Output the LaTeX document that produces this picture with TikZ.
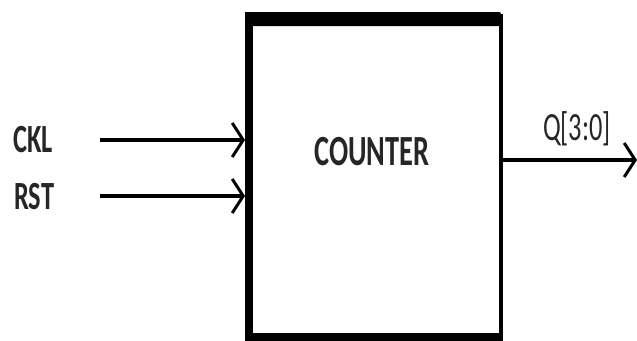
\documentclass[tikz,border=0pt]{standalone}
\usepackage{fontspec}
\setmainfont{Carlito}
\usetikzlibrary{arrows.meta}
\newcommand{\narrow}[1]{\scalebox{0.66}[1]{#1}}
\tikzset{
  lbl/.style={inner sep=0pt, text=black!85, font=\bfseries\fontsize{40}{40}\selectfont},
  sig/.style={line width=3.5pt, -{Straight Barb[length=11pt,width=34pt,line width=3pt]}},
  border/.style={fill=black, draw=none}
}
\begin{document}
\begin{tikzpicture}[x=1pt,y=-1pt]
\useasboundingbox (0,0) rectangle (637,340);
\fill[white] (0,0) rectangle (637,340);
% box
\node[draw=black, line width=4pt, minimum width=252pt, minimum height=330pt, inner sep=0pt, anchor=north west] (box) at (247,14) {};
\fill[border] (245,12) rectangle (253,342);
\fill[border, rounded corners=2pt] (245,12) rectangle (501,26);
\fill[border] (245,333) rectangle (501,342);
\node[lbl, font=\bfseries\fontsize{43}{43}\selectfont] (title) at (372,152) {\narrow{COUNTER}};
% inputs
\node[lbl, anchor=west] (ckl) at (13,140) {\narrow{CKL}};
\node[lbl, anchor=west] (rst) at (14,197) {\narrow{RST}};
\coordinate (cklstart) at (100,140);
\coordinate (rststart) at (100,196);
\coordinate (cklend) at (245,140);
\coordinate (rstend) at (245,196);
\draw[sig] (cklstart) -- (cklend);
\draw[sig] (rststart) -- (rstend);
% output
\coordinate (qstart) at (501,160);
\coordinate (qend) at (637,160);
\draw[sig] (qstart) -- (qend);
\node[lbl, font=\fontsize{40}{40}\selectfont] (q) at (577,129) {\narrow{Q[3:0]}};
\end{tikzpicture}
\end{document}
